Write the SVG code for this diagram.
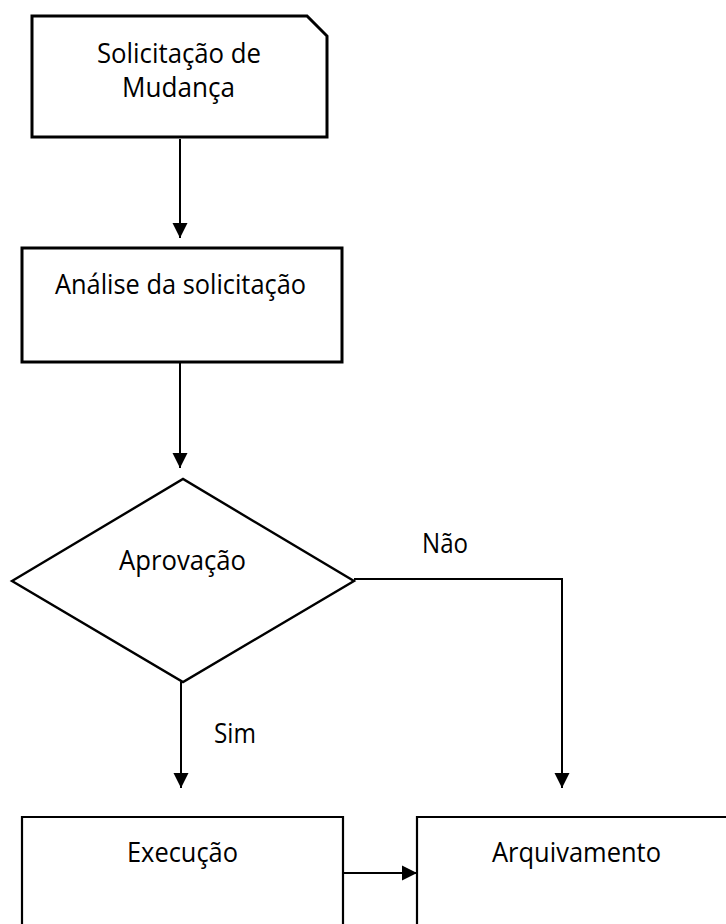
<svg xmlns="http://www.w3.org/2000/svg" width="726" height="924" viewBox="0 0 726 924">
  <defs>
    <marker id="arrow" markerUnits="userSpaceOnUse" markerWidth="16" markerHeight="16" refX="15" refY="8" orient="auto">
      <path d="M0,0.5 L15,8 L0,15.5 Z" fill="#000"/>
    </marker>
    <style>
      .shape { fill: #fff; stroke: #000; stroke-width: 3; stroke-linejoin: miter; }
      .thin { fill: none; stroke: #000; stroke-width: 2.2; }
      .conn { fill: none; stroke: #000; stroke-width: 2; marker-end: url(#arrow); }
      .lbl { font-family: "Open Sans", "Noto Sans", "Liberation Sans", sans-serif; font-size: 27px; fill: #000; text-anchor: middle; }
    </style>
  </defs>
  <rect width="726" height="924" fill="#fff"/>

  <g id="connectors">
    <line class="conn" x1="180" y1="139" x2="180" y2="238"/>
    <line class="conn" x1="180" y1="362" x2="180" y2="468"/>
    <line class="conn" x1="181" y1="682" x2="181" y2="788"/>
    <path class="conn" d="M354,579 H562 V788"/>
    <line class="conn" x1="343" y1="873" x2="417" y2="873"/>
    <text class="lbl" x="445" y="553" textLength="46" lengthAdjust="spacingAndGlyphs">Não</text>
    <text class="lbl" x="235" y="743" textLength="42" lengthAdjust="spacingAndGlyphs">Sim</text>
  </g>

  <g id="solicitacao">
    <path class="shape" d="M32,16 H307 L327,36 V137 H32 Z"/>
    <text class="lbl" x="179" y="63" textLength="164" lengthAdjust="spacingAndGlyphs">Solicitação de</text>
    <text class="lbl" x="178.5" y="97" textLength="113" lengthAdjust="spacingAndGlyphs">Mudança</text>
  </g>

  <g id="analise">
    <rect class="shape" x="22" y="248" width="320" height="114"/>
    <text class="lbl" x="180.5" y="294" textLength="251" lengthAdjust="spacingAndGlyphs">Análise da solicitação</text>
  </g>

  <g id="aprovacao">
    <polygon class="shape" style="stroke-width:2.4" points="12,581 183,479 354,581 183,682"/>
    <text class="lbl" x="182.5" y="570" textLength="127" lengthAdjust="spacingAndGlyphs">Aprovação</text>
  </g>

  <g id="execucao">
    <path class="thin" d="M22,930 V817 H343 V930"/>
    <text class="lbl" x="182.5" y="862" textLength="111" lengthAdjust="spacingAndGlyphs">Execução</text>
  </g>

  <g id="arquivamento">
    <path class="thin" d="M417,930 V817 H730"/>
    <text class="lbl" x="576.5" y="862" textLength="169" lengthAdjust="spacingAndGlyphs">Arquivamento</text>
  </g>
</svg>
